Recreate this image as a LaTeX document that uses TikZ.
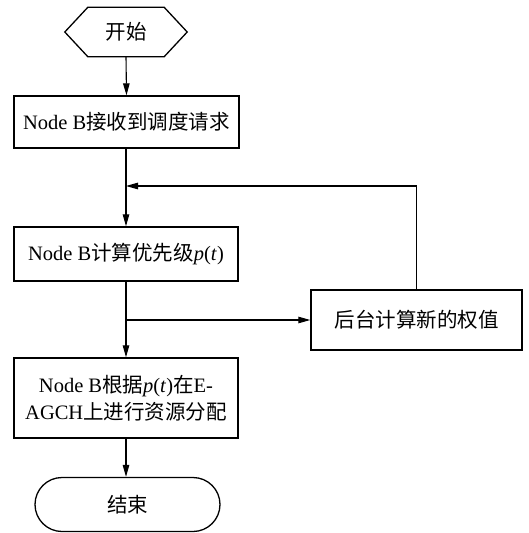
\documentclass[tikz,border=0pt]{standalone}
\usepackage{fontspec}
\setmainfont{Liberation Serif}
\newfontfamily\cjk{Noto Sans CJK SC}
\usetikzlibrary{arrows.meta}
\begin{document}
\begin{tikzpicture}[x=1pt,y=-1pt,
  every node/.style={font=\fontsize{20.5}{27}\selectfont, inner sep=0pt, align=center},
  procbox/.style={draw, line width=1.4pt, minimum height=#1},
  conn/.style={line width=1.1pt, -{Triangle[length=12pt,width=6.5pt]}},
  plain/.style={line width=1.1pt}]
\useasboundingbox (0,0) rectangle (528,533);
% start hexagon
\node (start) at (126,32) [minimum width=122pt, minimum height=49pt] {{\cjk 开始}};
\draw[line width=1.3pt] (start.west) -- ([xshift=23pt]start.north west) -- ([xshift=-23pt]start.north east)
  -- (start.east) -- ([xshift=-23pt]start.south east) -- ([xshift=23pt]start.south west) -- cycle;
% process boxes
\node (b1) at (126.5,122) [procbox=52pt, minimum width=225pt] {Node B{\cjk 接收到调度请求}};
\node (b2) at (126,254) [procbox=54pt, minimum width=224pt] {Node B{\cjk 计算优先级}\textit{p}(\textit{t})};
\node (b3) at (126,398) [procbox=80pt, minimum width=224pt] {Node B{\cjk 根据}\textit{p}(\textit{t}){\cjk 在}E-\\AGCH{\cjk 上进行资源分配}};
\node (side) at (416.5,320) [procbox=60pt, minimum width=211pt] {{\cjk 后台计算新的权值}};
% end terminal
\node (end) at (127.5,504.5) [draw, line width=1.3pt, minimum width=185pt, minimum height=54pt, rounded corners=27pt] {{\cjk 结束}};
% junctions
\coordinate (j1) at (126,186);
\coordinate (j2) at (126,320);
% connectors
\draw[conn] (start.south) -- (b1.north);
\draw[conn] (b1.south -| j1) -- (j1 |- b2.north);
\draw[conn] (side.north) |- (j1);
\draw[conn] (b2.south -| j2) -- (j2 |- b3.north);
\draw[conn] (j2) -- (side.west);
\draw[conn] (b3.south) -- (b3.south |- end.north);
\end{tikzpicture}
\end{document}
